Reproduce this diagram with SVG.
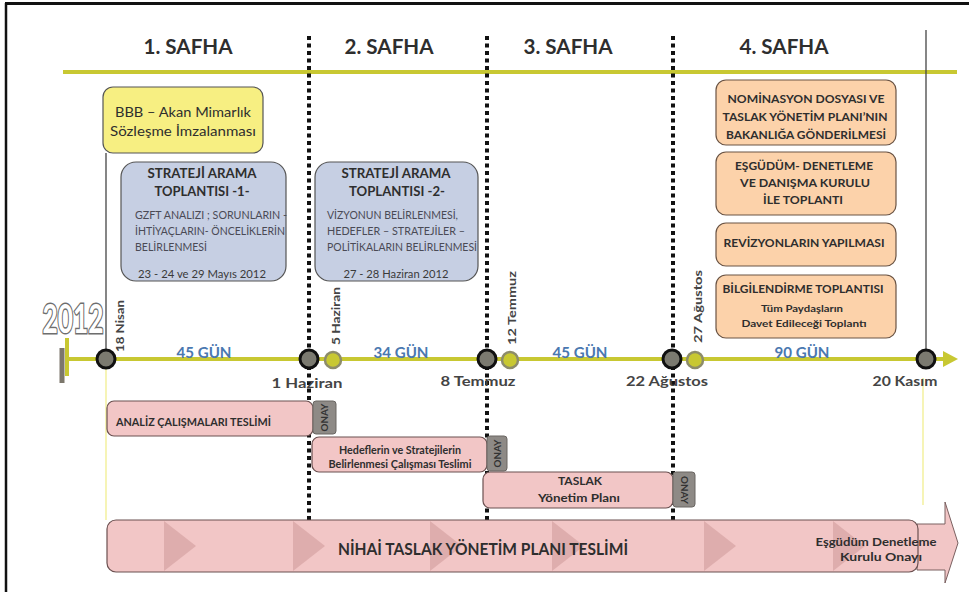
<svg xmlns="http://www.w3.org/2000/svg" width="969" height="592" viewBox="0 0 969 592">
<style>
text{font-family:Lato,"Liberation Sans",sans-serif;fill:#2e2e2e}
.hdr{font-size:20px;font-weight:bold;text-anchor:middle}
.b{font-weight:bold}
.m{text-anchor:middle}
.t13{font-size:13.5px;font-weight:bold;text-anchor:middle}
.body{font-size:10.5px;fill:#4a4a55}
.date{font-size:11px;text-anchor:middle;fill:#3a3a3a}
.or{font-size:11.5px;font-weight:bold;text-anchor:middle}
.pk{font-size:11px;font-weight:bold}
.gun{font-size:15px;font-weight:bold;text-anchor:middle;fill:#4a78b0}
.dl{font-size:14px;font-weight:bold;text-anchor:middle;fill:#444}
.rl{font-size:12px;font-weight:bold;fill:#444}
.onay{font-size:10px;font-weight:bold;text-anchor:middle;fill:#333}
.dots{stroke:#111;stroke-width:4;stroke-dasharray:4 3.5;fill:none}
.big{fill:#7b7a70;stroke:#111;stroke-width:3}
.sm{fill:#c8c832;stroke:#8d8c6a;stroke-width:2.5}
.yel{fill:#f7ef82;stroke:#555;stroke-width:1.2}
.blu{fill:#c6cfe3;stroke:#555;stroke-width:1.2}
.org{fill:#fcd2aa;stroke:#6b5444;stroke-width:1.2}
.pnk{fill:#f2c6c6;stroke:#6b5050;stroke-width:1.2}
.gry{fill:#8e8a86;stroke:#6a6662;stroke-width:1}
.chev{fill:#d6a2a2;opacity:0.7}
</style>

<!-- frame -->
<g id="frame">
<line x1="5" y1="3.5" x2="969" y2="3.5" stroke="#111" stroke-width="3"/>
<line x1="6" y1="3" x2="6" y2="592" stroke="#111" stroke-width="2.5"/>
</g>

<!-- phase headers -->
<g id="phases">
<text class="hdr" x="188" y="54" textLength="89" lengthAdjust="spacingAndGlyphs">1. SAFHA</text>
<text class="hdr" x="389" y="54" textLength="89" lengthAdjust="spacingAndGlyphs">2. SAFHA</text>
<text class="hdr" x="568" y="54" textLength="89" lengthAdjust="spacingAndGlyphs">3. SAFHA</text>
<text class="hdr" x="784" y="54" textLength="89" lengthAdjust="spacingAndGlyphs">4. SAFHA</text>
</g>

<g id="connectors">
<line x1="63" y1="72" x2="957" y2="72" stroke="#c8c832" stroke-width="4"/>
<line class="dots" x1="309" y1="36" x2="309" y2="520"/>
<line class="dots" x1="487" y1="36" x2="487" y2="520"/>
<line class="dots" x1="673" y1="36" x2="673" y2="520"/>
<line x1="926" y1="30" x2="926" y2="352" stroke="#444" stroke-width="1.3"/>
<line x1="106" y1="153" x2="106" y2="352" stroke="#444" stroke-width="1.3"/>
<line x1="106" y1="368" x2="106" y2="520" stroke="#f2ee90" stroke-width="1.3"/>
<line x1="923" y1="378" x2="923" y2="505" stroke="#f2ee90" stroke-width="1.3"/>
<!-- timeline -->
<line x1="65" y1="359" x2="946" y2="359" stroke="#c8c832" stroke-width="4"/>
<polygon points="943,351 958,359 943,367" fill="#c8c832"/>
<line x1="67" y1="338" x2="67" y2="376" stroke="#c8c832" stroke-width="4"/>
<rect x="59.5" y="348" width="5" height="35" fill="#7c776c"/>
</g>

<g id="year">
<text x="73" y="333" class="b m" font-size="40" textLength="61" lengthAdjust="spacingAndGlyphs" style="fill:#fff;stroke:#6e6e6e;stroke-width:3;paint-order:stroke">2012</text>
</g>

<g id="nodes-timeline">
<circle class="big" cx="106" cy="359" r="9"/>
<circle class="big" cx="309" cy="359" r="9"/>
<circle class="big" cx="487" cy="359" r="9"/>
<circle class="big" cx="672" cy="359" r="9"/>
<circle class="big" cx="926" cy="359" r="9"/>
<circle class="sm" cx="333" cy="360" r="8"/>
<circle class="sm" cx="510" cy="360" r="8"/>
<circle class="sm" cx="695" cy="360" r="8"/>
<text class="rl" transform="translate(124,352) rotate(-90)" textLength="52" lengthAdjust="spacingAndGlyphs">18 Nisan</text>
<text class="rl" transform="translate(340,345) rotate(-90)" textLength="58" lengthAdjust="spacingAndGlyphs">5 Haziran</text>
<text class="rl" transform="translate(516,345) rotate(-90)" textLength="74" lengthAdjust="spacingAndGlyphs">12 Temmuz</text>
<text class="rl" transform="translate(702,343) rotate(-90)" textLength="73" lengthAdjust="spacingAndGlyphs">27 Ağustos</text>
<text class="dl" x="307" y="388" textLength="71" lengthAdjust="spacingAndGlyphs">1 Haziran</text>
<text class="dl" x="478" y="386" textLength="75" lengthAdjust="spacingAndGlyphs">8 Temmuz</text>
<text class="dl" x="667" y="386" textLength="82" lengthAdjust="spacingAndGlyphs">22 Ağustos</text>
<text class="dl" x="905" y="386" textLength="65" lengthAdjust="spacingAndGlyphs">20 Kasım</text>
<text class="gun" x="204" y="358" textLength="55" lengthAdjust="spacingAndGlyphs">45 GÜN</text>
<text class="gun" x="401" y="358" textLength="55" lengthAdjust="spacingAndGlyphs">34 GÜN</text>
<text class="gun" x="580" y="358" textLength="55" lengthAdjust="spacingAndGlyphs">45 GÜN</text>
<text class="gun" x="802" y="358" textLength="55" lengthAdjust="spacingAndGlyphs">90 GÜN</text>
</g>

<g id="bbb">
<rect class="yel" x="103" y="87" width="160" height="66" rx="10"/>
<text class="m" x="183" y="117" font-size="14" textLength="136" lengthAdjust="spacingAndGlyphs">BBB – Akan Mimarlık</text>
<text class="m" x="183" y="136" font-size="14" textLength="146" lengthAdjust="spacingAndGlyphs">Sözleşme İmzalanması</text>
</g>

<g id="strateji1">
<rect class="blu" x="121" y="162" width="165" height="119" rx="15"/>
<text class="t13" x="202" y="178" textLength="109" lengthAdjust="spacingAndGlyphs">STRATEJİ ARAMA</text>
<text class="t13" x="202" y="196" textLength="95" lengthAdjust="spacingAndGlyphs">TOPLANTISI -1-</text>
<text class="body" x="135" y="219" textLength="152" lengthAdjust="spacingAndGlyphs">GZFT ANALIZI ; SORUNLARIN -</text>
<text class="body" x="135" y="235" textLength="150" lengthAdjust="spacingAndGlyphs">İHTİYAÇLARIN- ÖNCELİKLERİN</text>
<text class="body" x="135" y="251" textLength="72" lengthAdjust="spacingAndGlyphs">BELİRLENMESİ</text>
<text class="date" x="202" y="278" textLength="128" lengthAdjust="spacingAndGlyphs">23 - 24 ve 29 Mayıs 2012</text>
</g>

<g id="strateji2">
<rect class="blu" x="315" y="162" width="163" height="119" rx="15"/>
<text class="t13" x="396" y="178" textLength="109" lengthAdjust="spacingAndGlyphs">STRATEJİ ARAMA</text>
<text class="t13" x="397" y="196" textLength="96" lengthAdjust="spacingAndGlyphs">TOPLANTISI -2-</text>
<text class="body" x="327" y="219" textLength="131" lengthAdjust="spacingAndGlyphs">VİZYONUN  BELİRLENMESİ,</text>
<text class="body" x="327" y="235" textLength="138" lengthAdjust="spacingAndGlyphs">HEDEFLER – STRATEJİLER –</text>
<text class="body" x="327" y="251" textLength="150" lengthAdjust="spacingAndGlyphs">POLİTİKALARIN BELİRLENMESİ</text>
<text class="date" x="396" y="278" textLength="105" lengthAdjust="spacingAndGlyphs">27 - 28 Haziran 2012</text>
</g>

<g id="nominasyon">
<rect class="org" x="716" y="80" width="180" height="65" rx="10"/>
<text class="or" x="806" y="103" textLength="157" lengthAdjust="spacingAndGlyphs">NOMİNASYON DOSYASI VE</text>
<text class="or" x="805" y="121" textLength="165" lengthAdjust="spacingAndGlyphs">TASLAK YÖNETİM PLANI’NIN</text>
<text class="or" x="806" y="139" textLength="160" lengthAdjust="spacingAndGlyphs">BAKANLIĞA GÖNDERİLMESİ</text>
</g>

<g id="esgudum">
<rect class="org" x="716" y="152" width="180" height="63" rx="10"/>
<text class="or" x="804" y="170" textLength="138" lengthAdjust="spacingAndGlyphs">EŞGÜDÜM- DENETLEME</text>
<text class="or" x="805" y="187" textLength="130" lengthAdjust="spacingAndGlyphs">VE  DANIŞMA KURULU</text>
<text class="or" x="803" y="204" textLength="80" lengthAdjust="spacingAndGlyphs">İLE TOPLANTI</text>
</g>

<g id="revizyon">
<rect class="org" x="716" y="223" width="180" height="43" rx="10"/>
<text class="or" x="804" y="247" textLength="161" lengthAdjust="spacingAndGlyphs">REVİZYONLARIN YAPILMASI</text>
</g>

<g id="bilgilendirme">
<rect class="org" x="716" y="275" width="180" height="63" rx="10"/>
<text class="or" x="803" y="293" textLength="161" lengthAdjust="spacingAndGlyphs">BİLGİLENDİRME TOPLANTISI</text>
<text class="m b" x="802" y="312" font-size="10" textLength="82" lengthAdjust="spacingAndGlyphs">Tüm Paydaşların</text>
<text class="m b" x="804" y="327" font-size="10" textLength="125" lengthAdjust="spacingAndGlyphs">Davet Edileceği Toplantı</text>
</g>

<g id="analiz">
<rect class="pnk" x="107" y="401" width="206" height="35" rx="7"/>
<text class="pk" x="116" y="426" textLength="155" lengthAdjust="spacingAndGlyphs">ANALİZ ÇALIŞMALARI TESLİMİ</text>
</g>
<g id="onay1">
<rect class="gry" x="313" y="401" width="23" height="33" rx="3"/>
<text class="onay" transform="translate(328,417.5) rotate(-90)" textLength="28" lengthAdjust="spacingAndGlyphs">ONAY</text>
</g>

<g id="hedefler">
<rect class="pnk" x="312" y="437" width="175" height="35" rx="7"/>
<text class="pk m" x="400" y="454" textLength="122" lengthAdjust="spacingAndGlyphs">Hedeflerin ve Stratejilerin</text>
<text class="pk m" x="400" y="468" textLength="143" lengthAdjust="spacingAndGlyphs">Belirlenmesi Çalışması Teslimi</text>
</g>
<g id="onay2">
<rect class="gry" x="487" y="436" width="20" height="35" rx="3"/>
<text class="onay" transform="translate(500.5,453.5) rotate(-90)" textLength="28" lengthAdjust="spacingAndGlyphs">ONAY</text>
</g>

<g id="taslak">
<rect class="pnk" x="483" y="472" width="190" height="36" rx="7"/>
<text class="pk m" x="580" y="485" textLength="44" lengthAdjust="spacingAndGlyphs">TASLAK</text>
<text class="pk m" x="579" y="502" textLength="82" lengthAdjust="spacingAndGlyphs">Yönetim Planı</text>
</g>
<g id="onay3">
<rect class="gry" x="673" y="472" width="22" height="35" rx="3"/>
<text class="onay" transform="translate(680.5,490) rotate(90)" textLength="28" lengthAdjust="spacingAndGlyphs">ONAY</text>
</g>

<g id="nihai">
<polygon points="917,524 945,524 945,502 958,543 945,583 945,570 917,570" fill="#f2c6c6" stroke="#7a6060" stroke-width="1"/>
<rect class="pnk" x="107" y="520" width="811" height="52" rx="9"/>
<polygon class="chev" points="164,521 196,546 164,571"/>
<polygon class="chev" points="293,521 325,546 293,571"/>
<polygon class="chev" points="430,521 462,546 430,571"/>
<polygon class="chev" points="552,521 584,546 552,571"/>
<polygon class="chev" points="704,521 736,546 704,571"/>
<polygon class="chev" points="833,521 865,546 833,571"/>
<text class="b m" x="483" y="555" font-size="17" textLength="290" lengthAdjust="spacingAndGlyphs">NİHAİ TASLAK YÖNETİM PLANI TESLİMİ</text>
<text class="pk m" x="876" y="546" font-size="12" textLength="121" lengthAdjust="spacingAndGlyphs">Eşgüdüm Denetleme</text>
<text class="pk m" x="881" y="561" font-size="12" textLength="82" lengthAdjust="spacingAndGlyphs">Kurulu  Onayı</text>
</g>
</svg>
